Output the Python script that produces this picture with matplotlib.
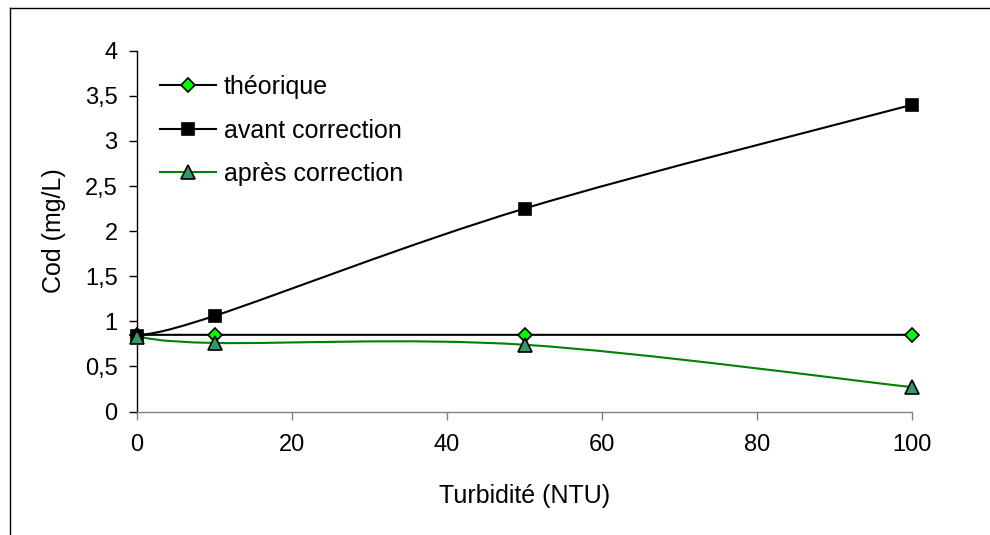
import numpy as np
import matplotlib
matplotlib.use("Agg")
import matplotlib.pyplot as plt
from matplotlib.path import Path
from matplotlib.patches import PathPatch
from matplotlib.lines import Line2D
from matplotlib.ticker import FuncFormatter

plt.rcParams['font.family'] = ['Liberation Sans', 'DejaVu Sans']

turbidite = [0, 10, 50, 100]
theorique = [0.85, 0.85, 0.85, 0.85]
avant = [0.84, 1.06, 2.25, 3.40]
apres = [0.83, 0.76, 0.74, 0.27]

labels = ["théorique", "avant correction", "après correction"]


def smooth_path(xs, ys):
    # bezier segments like the spreadsheet "smoothed line" option
    pts = np.column_stack([xs, ys]).astype(float)
    n = len(pts)
    verts = [pts[0]]
    codes = [Path.MOVETO]
    for i in range(n - 1):
        p0 = pts[max(i - 1, 0)]
        p1 = pts[i]
        p2 = pts[i + 1]
        p3 = pts[min(i + 2, n - 1)]
        c1 = p1 + (p2 - p0) / 6.0
        c2 = p2 - (p3 - p1) / 6.0
        verts += [c1, c2, p2]
        codes += [Path.CURVE4] * 3
    return Path(verts, codes)


W, H = 990, 535
fig = plt.figure(figsize=(W / 100, H / 100), dpi=100)
ax = fig.add_axes([137 / W, 1 - 411.5 / H, 775 / W, 360.8 / H])

series = [
    (theorique, 'black', dict(marker='D', markersize=7.5, markerfacecolor='#00ff00')),
    (avant, 'black', dict(marker='s', markersize=8, markerfacecolor='black')),
    (apres, '#008000', dict(marker='^', markersize=9.5, markerfacecolor='#339966')),
]

handles = []
for (vals, col, mk), lab in zip(series, labels):
    ax.add_patch(PathPatch(smooth_path(turbidite, vals), facecolor='none',
                           edgecolor=col, lw=1.5, clip_on=False, zorder=2))
    ax.plot(turbidite, vals, linestyle='none', markeredgecolor='black',
            markeredgewidth=1.2, clip_on=False, zorder=3, **mk)
    handles.append(Line2D([], [], color=col, lw=1.5, markeredgecolor='black',
                          markeredgewidth=1.2, **mk))

ax.set_xlim(0, 100)
ax.set_ylim(0, 4)
ax.set_xticks([0, 20, 40, 60, 80, 100])
ax.set_yticks(np.arange(0, 4.01, 0.5))
ax.yaxis.set_major_formatter(FuncFormatter(lambda v, p: f"{v:g}".replace('.', ',')))

for s in ['top', 'right']:
    ax.spines[s].set_visible(False)
ax.spines['left'].set_color('black')
ax.spines['bottom'].set_color('#808080')
ax.spines['left'].set_linewidth(1)
ax.spines['bottom'].set_linewidth(1)
ax.tick_params(axis='y', direction='out', length=6, width=1, color='black',
               pad=8, labelsize=17)
ax.tick_params(axis='x', direction='out', length=6, width=1, color='#808080',
               pad=10, labelsize=17)

fig.text(54 / W, 1 - 231 / H, "Cod (mg/L)", rotation=90, ha='center',
         va='center', fontsize=18)
fig.text(525 / W, 1 - 503 / H, "Turbidité (NTU)", ha='center',
         va='baseline', fontsize=18)

leg = ax.legend(handles, labels, loc='upper left', frameon=False,
                bbox_to_anchor=(160 / W, 1 - 75 / H),
                bbox_transform=fig.transFigure, fontsize=18,
                handlelength=2.25, handletextpad=0.3, labelspacing=0.78,
                borderpad=0, borderaxespad=0)

# outer frame, only left and top edges show
fig.add_artist(Line2D([9.5 / W, 9.5 / W], [0, 1 - 8 / H], color='black',
                      lw=1, transform=fig.transFigure))
fig.add_artist(Line2D([9.5 / W, 1], [1 - 8 / H, 1 - 8 / H], color='black',
                      lw=1, transform=fig.transFigure))

fig.savefig("out.png", dpi=100)
